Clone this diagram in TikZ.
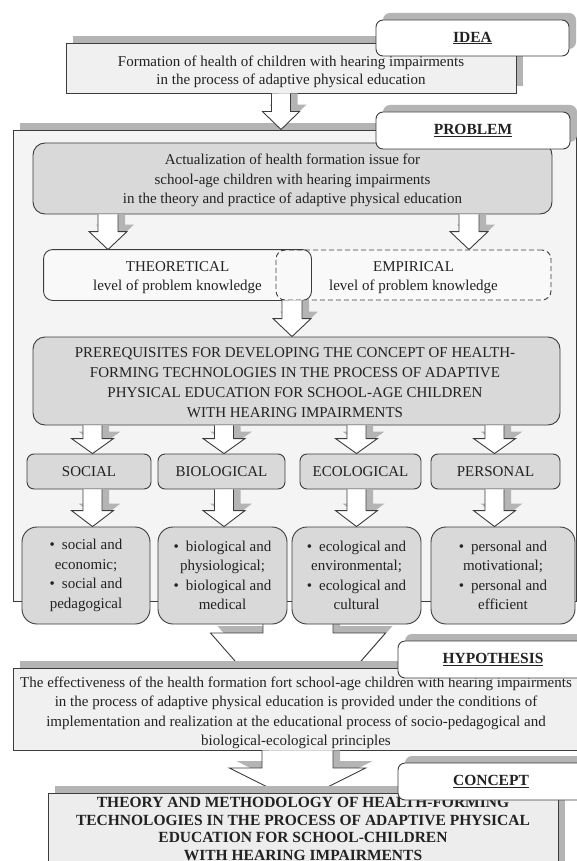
\documentclass[tikz,border=0pt]{standalone}
\usepackage{fontspec}
\setmainfont{Liberation Serif}
\usetikzlibrary{shadows,calc}
\definecolor{shd}{HTML}{B4B4B4}
\definecolor{edge}{HTML}{3C3C3C}
\definecolor{boxg}{HTML}{D9D9D9}
\definecolor{lightg}{HTML}{F0F0F0}
\definecolor{frameg}{HTML}{F4F4F4}
\definecolor{lvlg}{HTML}{F9F9F9}
\definecolor{conc}{HTML}{EDEDED}
\definecolor{txt}{HTML}{222222}
\tikzset{
  myshadow/.style={general shadow={fill=shd, shadow xshift=7pt, shadow yshift=7pt}},
  base/.style={draw=edge, line width=0.9pt, text=txt, align=center, inner sep=0pt,
    font=\fontsize{15}{19.5}\selectfont},
  plaintext/.style={text=txt, align=center, inner sep=0pt, font=\fontsize{15}{19.5}\selectfont},
  tab/.style={base, fill=white, rounded corners=7pt, myshadow, font=\fontsize{15.5}{18}\selectfont\bfseries},
  lightbox/.style={base, fill=lightg, myshadow},
  framebox/.style={base, fill=frameg, myshadow},
  graybox/.style={base, fill=boxg, rounded corners=12pt},
  catbox/.style={base, fill=boxg, rounded corners=7pt},
  bulbox/.style={base, fill=boxg, rounded corners=15pt},
  lvlbox/.style={base, fill=lvlg, rounded corners=9pt},
  arrowline/.style={draw=edge, line width=0.9pt, line join=miter},
}
% #1 centre x, #2 start point, #3 tip point, #4 shaft half width, #5 head half width, #6 head height
\newcommand\barrow[6]{%
  \fill[shd] let \p1=#2, \p2=#3 in
    ({#1pt-#4pt+7pt},\y1) -- ({#1pt-#4pt+7pt},{\y2+#6pt+7pt})
    -- ({#1pt-#5pt+7pt},{\y2+#6pt+7pt}) -- ({#1pt+7pt},{\y2+7pt})
    -- ({#1pt+#5pt+7pt},{\y2+#6pt+7pt}) -- ({#1pt+#4pt+7pt},{\y2+#6pt+7pt})
    -- ({#1pt+#4pt+7pt},\y1) -- cycle;
  \fill[white] let \p1=#2, \p2=#3 in
    ({#1pt-#4pt},\y1) -- ({#1pt-#4pt},{\y2+#6pt})
    -- ({#1pt-#5pt},{\y2+#6pt}) -- ({#1pt},\y2)
    -- ({#1pt+#5pt},{\y2+#6pt}) -- ({#1pt+#4pt},{\y2+#6pt})
    -- ({#1pt+#4pt},\y1) -- cycle;
  \draw[arrowline] let \p1=#2, \p2=#3 in
    ({#1pt-#4pt},\y1) -- ({#1pt-#4pt},{\y2+#6pt})
    -- ({#1pt-#5pt},{\y2+#6pt}) -- ({#1pt},\y2)
    -- ({#1pt+#5pt},{\y2+#6pt}) -- ({#1pt+#4pt},{\y2+#6pt})
    -- ({#1pt+#4pt},\y1);
}
\begin{document}
\begin{tikzpicture}[x=1pt,y=-1pt]
\path[use as bounding box] (0,0) rectangle (577,861);
\clip (0,0) rectangle (577,861);
\fill[white] (0,0) rectangle (577,861);

% PROBLEM frame
\node[framebox, minimum width=563pt, minimum height=471pt] (frame) at (294.5,365.5) {};

% IDEA
\node[lightbox, minimum width=450pt, minimum height=50pt] (idea) at (291,68) {};
\node[plaintext, font=\fontsize{15}{18}\selectfont] (ideatxt) at (291,71.5)
  {Formation of health of children with hearing impairments\\in the process of adaptive physical education};
\node[tab, minimum width=193pt, minimum height=36pt] (ideatab) at (472.5,38) {\underline{IDEA}};
\barrow{281}{(idea.south)}{(frame.north)}{9.5}{18.5}{18}

% PROBLEM
\node[graybox, minimum width=519pt, minimum height=71pt] (actual) at (292.5,178.5) {};
\node[plaintext] (actualtxt) at (292.5,180.5)
  {Actualization of health formation issue for\\school-age children with hearing impairments\\in the theory and practice of adaptive physical education};
\node[tab, minimum width=194pt, minimum height=37pt] (probtab) at (473,130.5) {\underline{PROBLEM}};

\node[lvlbox, draw=none, minimum width=267pt, minimum height=50pt] (theo) at (177.5,275) {};
\node[lvlbox, dash pattern=on 5pt off 3pt, minimum width=275pt, minimum height=50pt] (emp) at (413.5,275) {};
\draw[draw=edge, line width=0.9pt, rounded corners=9pt] (theo.south west) rectangle (theo.north east);
\node[plaintext] (theotxt) at (177.5,277.5) {THEORETICAL\\level of problem knowledge};
\node[plaintext] (emptxt) at (413.5,277.5) {EMPIRICAL\\level of problem knowledge};

\barrow{108}{(actual.south)}{(theo.north)}{10}{19}{18}
\barrow{469}{(actual.south)}{(emp.north)}{10}{19}{18}

\node[graybox, minimum width=527pt, minimum height=88pt] (prereq) at (296.5,381) {};
\node[plaintext, font=\fontsize{15}{20}\selectfont] (prereqtxt) at (295,382.5)
  {PREREQUISITES FOR DEVELOPING THE CONCEPT OF HEALTH-\\FORMING TECHNOLOGIES IN THE PROCESS OF ADAPTIVE\\PHYSICAL EDUCATION FOR SCHOOL-AGE CHILDREN\\WITH HEARING IMPAIRMENTS};
\barrow{292}{(theo.south)}{(prereq.north)}{10}{19}{18}

% categories
\node[catbox, minimum width=124pt, minimum height=35pt] (soc) at (89,471.5) {SOCIAL};
\node[catbox, minimum width=127pt, minimum height=35pt] (bio) at (221.5,471.5) {BIOLOGICAL};
\node[catbox, minimum width=121pt, minimum height=35pt] (eco) at (360.5,471.5) {ECOLOGICAL};
\node[catbox, minimum width=129pt, minimum height=35pt] (pers) at (495.5,471.5) {PERSONAL};
\barrow{92.5}{(prereq.south)}{(soc.north)}{9.5}{21}{15}
\barrow{224}{(prereq.south)}{(bio.north)}{9.5}{21}{15}
\barrow{356.5}{(prereq.south)}{(eco.north)}{9.5}{21}{15}
\barrow{494.5}{(prereq.south)}{(pers.north)}{9.5}{21}{15}

% big arrow to hypothesis (drawn under the bullet boxes)
\coordinate (h1s) at (298,615);
\coordinate (h1t) at (298,733);
\barrow{298}{(h1s)}{(h1t)}{35}{87.5}{100}

% bullet boxes
\node[bulbox, minimum width=128pt, minimum height=97pt] (socb) at (86,575.5)
  {\textbullet\hspace{7pt}social and\\economic;\\\textbullet\hspace{7pt}social and\\pedagogical};
\node[bulbox, minimum width=129pt, minimum height=97pt] (biob) at (222.5,575.5)
  {\textbullet\hspace{7pt}biological and\\physiological;\\\textbullet\hspace{7pt}biological and\\medical};
\node[bulbox, minimum width=129pt, minimum height=97pt] (ecob) at (356.5,575.5)
  {\textbullet\hspace{7pt}ecological and\\environmental;\\\textbullet\hspace{7pt}ecological and\\cultural};
\node[bulbox, minimum width=144pt, minimum height=97pt] (persb) at (503,575.5)
  {\textbullet\hspace{7pt}personal and\\motivational;\\\textbullet\hspace{7pt}personal and\\efficient};
\barrow{92.5}{(soc.south)}{(socb.north)}{9.5}{21}{16}
\barrow{224}{(bio.south)}{(biob.north)}{9.5}{21}{16}
\barrow{356.5}{(eco.south)}{(ecob.north)}{9.5}{21}{16}
\barrow{494.5}{(pers.south)}{(persb.north)}{9.5}{21}{16}

% HYPOTHESIS
\node[lightbox, minimum width=566pt, minimum height=82pt] (hyp) at (296,709) {};
\node[plaintext] (hyptxt) at (296,713)
  {The effectiveness of the health formation fort school-age children with hearing impairments\\in the process of adaptive physical education is provided under the conditions of\\implementation and realization at the educational process of socio-pedagogical and\\biological-ecological principles};
\node[tab, minimum width=190pt, minimum height=37pt] (hyptab) at (493,659.5) {\underline{HYPOTHESIS}};

% CONCEPT
\coordinate (h2t) at (297.5,802);
\barrow{297.5}{(hyp.south)}{(h2t)}{35.5}{68}{34}
\node[lightbox, fill=conc, minimum width=510pt, minimum height=120pt, anchor=north] (concept) at (303,793) {};
\node[anchor=north, text=txt, align=center, inner sep=0pt, font=\fontsize{15.5}{17.6}\selectfont\bfseries] (contxt) at (303,797)
  {THEORY AND METHODOLOGY OF HEALTH-FORMING\\TECHNOLOGIES IN THE PROCESS OF ADAPTIVE PHYSICAL\\EDUCATION FOR SCHOOL-CHILDREN\\WITH HEARING IMPAIRMENTS};
\node[tab, minimum width=186pt, minimum height=37pt] (contab) at (491,781.5) {\underline{CONCEPT}};
\end{tikzpicture}
\end{document}
